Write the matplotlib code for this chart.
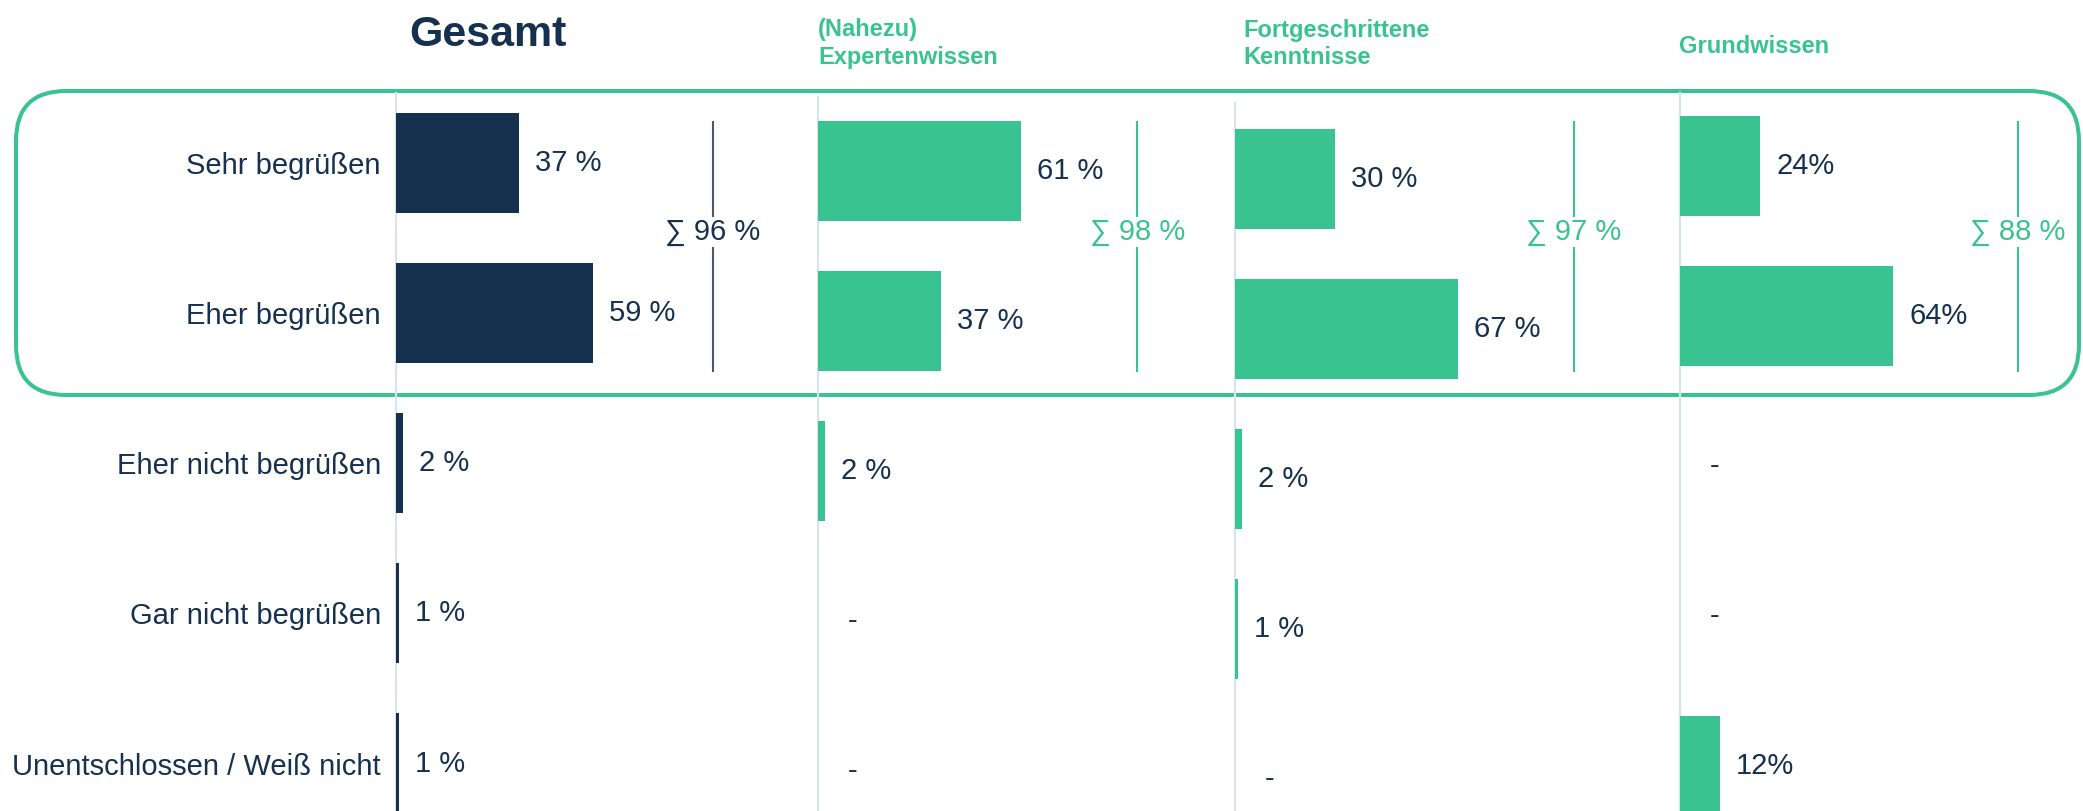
import matplotlib
matplotlib.use("Agg")
import matplotlib.pyplot as plt
from matplotlib.patches import FancyBboxPatch

# answer categories (rows) and respondent groups (panels)
categories = [
    "Sehr begrüßen",
    "Eher begrüßen",
    "Eher nicht begrüßen",
    "Gar nicht begrüßen",
    "Unentschlossen / Weiß nicht",
]
groups = ["Gesamt", "(Nahezu)\nExpertenwissen", "Fortgeschrittene\nKenntnisse", "Grundwissen"]

gesamt = [37, 59, 2, 1, 1]
experten = [61, 37, 2, 0, 0]
fortgeschritten = [30, 67, 2, 1, 0]
grundwissen = [24, 64, 0, 0, 12]
top2_sums = [96, 98, 97, 88]

NAVY = "#15314F"
GREEN = "#38C391"
GRID = "#D5E3F2"
SIGMA_GRAY = "#4B5A6B"

plt.rcParams["font.family"] = ["Liberation Sans", "DejaVu Sans"]

W, H = 2083, 811
fig = plt.figure(figsize=(W / 100, H / 100), dpi=100)

# background axes in pixel units for the frame and headers
bg = fig.add_axes([0, 0, 1, 1])
bg.set_xlim(0, W)
bg.set_ylim(H, 0)
bg.axis("off")

bg.add_patch(FancyBboxPatch((16, 91), 2063, 304,
                            boxstyle="round,pad=0,rounding_size=50",
                            fill=False, ec=GREEN, lw=2.9))

PX_PER_PCT = 3.335
ROW0 = 162.7      # pixel centre of first row (Gesamt)
PITCH = 150.2     # pixel distance between rows
AX_PCT = 110

panels = [
    dict(values=gesamt, fmt="{} %", color=NAVY, left=396, top=93, shift=0,
         sigma_x=95.0, line_col=SIGMA_GRAY, sigma_col=NAVY,
         head_xy=(409, 35), head_size=31),
    dict(values=experten, fmt="{} %", color=GREEN, left=818, top=97, shift=8,
         sigma_x=95.7, line_col=GREEN, sigma_col=GREEN,
         head_xy=(818, 43.5), head_size=17),
    dict(values=fortgeschritten, fmt="{} %", color=GREEN, left=1235, top=103, shift=16,
         sigma_x=101.6, line_col=GREEN, sigma_col=GREEN,
         head_xy=(1243, 44), head_size=17),
    dict(values=grundwissen, fmt="{}%", color=GREEN, left=1680, top=93, shift=3,
         sigma_x=101.3, line_col=GREEN, sigma_col=GREEN,
         head_xy=(1679, 46.5), head_size=17),
]

rows = list(range(len(categories)))

for k, p in enumerate(panels):
    ax = fig.add_axes([p["left"] / W, 0, AX_PCT * PX_PER_PCT / W, (H - p["top"]) / H])
    ax.set_facecolor("none")
    ax.set_xlim(0, AX_PCT)
    y_top = (p["top"] - ROW0 - p["shift"]) / PITCH
    y_bot = (H - ROW0 - p["shift"]) / PITCH
    ax.set_ylim(y_bot, y_top)

    for side in ["top", "right", "bottom"]:
        ax.spines[side].set_visible(False)
    ax.spines["left"].set_color(GRID)
    ax.spines["left"].set_linewidth(1.5)
    ax.set_xticks([])

    ax.barh(rows, p["values"], height=0.666, color=p["color"], edgecolor="none", zorder=3)

    for i, v in zip(rows, p["values"]):
        if v > 0:
            ax.annotate(p["fmt"].format(v), xy=(v, i), xytext=(16, 0),
                        textcoords="offset pixels", ha="left", va="center",
                        fontsize=21, color=NAVY)
        else:
            ax.annotate("-", xy=(0, i), xytext=(30, 0),
                        textcoords="offset pixels", ha="left", va="center",
                        fontsize=21, color=NAVY)

    # sum bracket for the two top answers
    y0 = (122 - ROW0 - p["shift"]) / PITCH
    y1 = (371 - ROW0 - p["shift"]) / PITCH
    ylab = (232 - ROW0 - p["shift"]) / PITCH
    ax.plot([p["sigma_x"]] * 2, [y0, y1], color=p["line_col"], lw=1.5, zorder=2)
    ax.text(p["sigma_x"], ylab, f"\u2211 {top2_sums[k]} %", ha="center", va="center",
            fontsize=21, color=p["sigma_col"], zorder=4,
            bbox=dict(fc="white", ec="none", pad=1))

    if k == 0:
        ax.set_yticks(rows)
        ax.set_yticklabels(categories, fontsize=21, color=NAVY)
        ax.tick_params(axis="y", length=0, pad=10.8)
    else:
        ax.set_yticks([])

    bg.text(p["head_xy"][0], p["head_xy"][1], groups[k], ha="left", va="center",
            fontsize=p["head_size"], fontweight="bold", linespacing=1.25,
            color=NAVY if k == 0 else GREEN)

fig.savefig("out.png", dpi=100)
